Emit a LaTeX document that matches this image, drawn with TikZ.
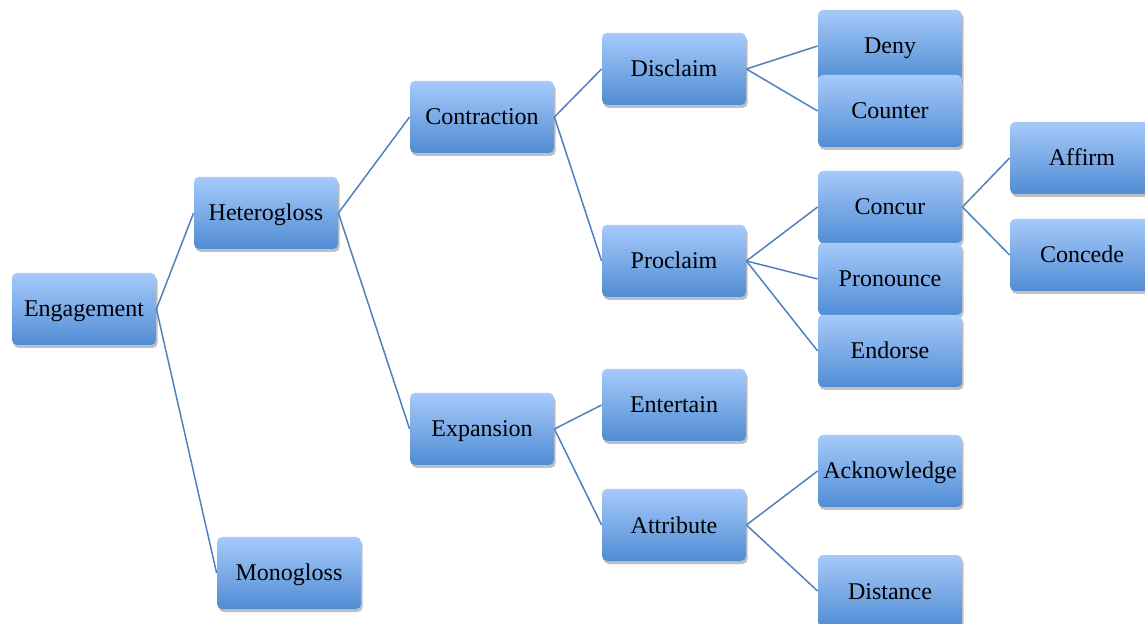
\documentclass[tikz,border=0pt]{standalone}
\usepackage{fontspec}
\setmainfont{Liberation Serif}
\usetikzlibrary{shadows}

\definecolor{boxtop}{RGB}{166,202,250}
\definecolor{boxbot}{RGB}{80,140,212}
\definecolor{linkblue}{RGB}{79,129,189}

\tikzset{
  box/.style={rounded corners=2.5pt, minimum width=72pt, minimum height=36pt,
    inner sep=0pt, text height=8pt, text depth=0pt, top color=boxtop, bottom color=boxbot,
    drop shadow={shadow xshift=0.8pt, shadow yshift=-1.5pt, opacity=0.25, fill=black},
    font=\fontsize{12}{14}\selectfont},
  link/.style={linkblue, line width=0.75pt}
}

\begin{document}
\begin{tikzpicture}[x=0.5pt,y=0.5pt]
\useasboundingbox (0,0) rectangle (1145,-624);
\clip (0,0) rectangle (1145,-624);
\node[box] (eng) at (84,-309) {Engagement};
\node[box] (het) at (266,-213) {Heterogloss};
\node[box] (mono) at (289,-573) {Monogloss};
\node[box] (contr) at (482,-117) {Contraction};
\node[box] (expan) at (482,-429) {Expansion};
\node[box] (discl) at (674,-69) {Disclaim};
\node[box] (procl) at (674,-261) {Proclaim};
\node[box] (enter) at (674,-405) {Entertain};
\node[box] (attri) at (674,-525) {Attribute};
\node[box] (deny) at (890,-46) {Deny};
\node[box] (count) at (890,-111) {Counter};
\node[box] (concur) at (890,-207) {Concur};
\node[box] (pronou) at (890,-279) {Pronounce};
\node[box] (endors) at (890,-351) {Endorse};
\node[box] (ackn) at (890,-471) {Acknowledge};
\node[box] (dist) at (890,-591) {Distance};
\node[box] (affirm) at (1082,-158) {Affirm};
\node[box] (conced) at (1082,-255) {Concede};
\draw [link] (eng.east) -- (het.west);
\draw [link] (eng.east) -- (mono.west);
\draw [link] (het.east) -- (contr.west);
\draw [link] (het.east) -- (expan.west);
\draw [link] (contr.east) -- (discl.west);
\draw [link] (contr.east) -- (procl.west);
\draw [link] (expan.east) -- (enter.west);
\draw [link] (expan.east) -- (attri.west);
\draw [link] (discl.east) -- (deny.west);
\draw [link] (discl.east) -- (count.west);
\draw [link] (procl.east) -- (concur.west);
\draw [link] (procl.east) -- (pronou.west);
\draw [link] (procl.east) -- (endors.west);
\draw [link] (attri.east) -- (ackn.west);
\draw [link] (attri.east) -- (dist.west);
\draw [link] (concur.east) -- (affirm.west);
\draw [link] (concur.east) -- (conced.west);
\end{tikzpicture}
\end{document}
